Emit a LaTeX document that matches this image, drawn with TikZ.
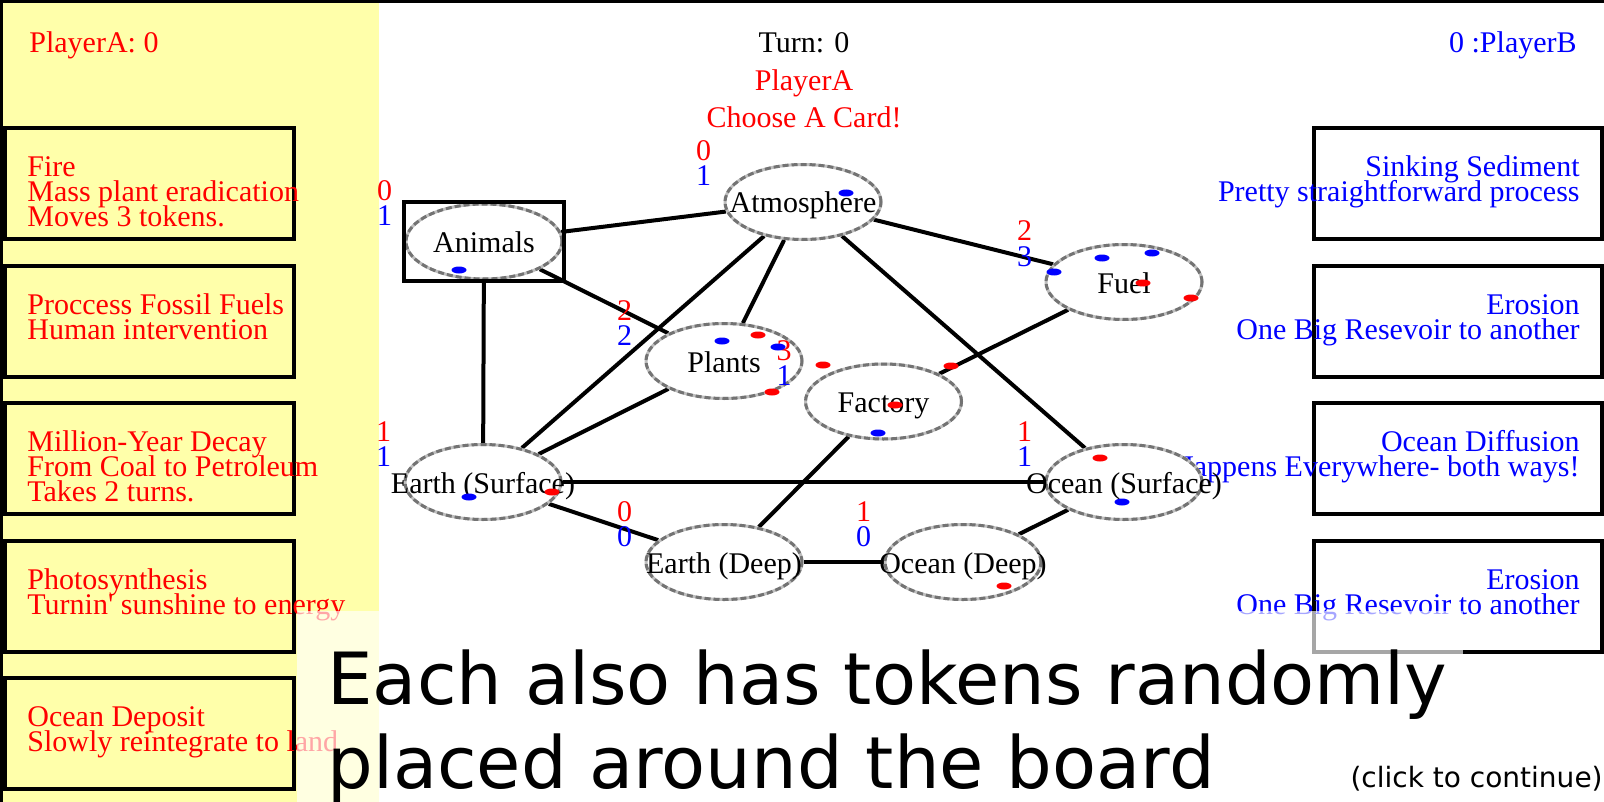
\documentclass[tikz,border=0pt]{standalone}
\usepackage{fontspec}
\setmainfont{Liberation Serif}
\newfontfamily\boardsans{DejaVu Sans}
\usetikzlibrary{shapes.geometric,calc,backgrounds}
\definecolor{panel}{RGB}{255,255,170}

\newcommand{\tally}[3]{%
  \node[tallyred] (#1-r) at ($(#1.west |- #1.north)+(-20,-2)$) {#2};
  \node[tallyblue] (#1-b) at ($(#1.west |- #1.north)+(-20,23)$) {#3};}
\newcommand{\leftcard}[3]{%
  \node[cardA] (#1) at (149.5,#2+55.5) {};
  \foreach \cardline [count=\k from 0] in {#3}
    \node[redtxt, anchor=base west] (#1-\k) at ($(#1.north west)+(24,50.5+25*\k)$) {\cardline};}
\newcommand{\rightcard}[3]{%
  \node[cardB] (#1) at (1458,#2+55.5) {};
  \foreach \cardline [count=\k from 0] in {#3}
    \node[bluetxt, anchor=base east] (#1-\k) at ($(#1.north east)+(-24,50.5+25*\k)$) {\cardline};}

\begin{document}
\begin{tikzpicture}[x=0.5pt, y=-0.5pt, font=\fontsize{15}{12.5}\selectfont,
  link/.style={line width=2pt},
  resv/.style={ellipse, draw=black!25, fill=white, line width=1.5pt, minimum width=78pt, minimum height=37.5pt,
    inner sep=0pt, text height=12pt, text depth=1pt,
    postaction={draw=black!55, line width=1.5pt, dash pattern=on 3pt off 1.5pt}},
  cardA/.style={draw, line width=2pt, fill=panel, minimum width=144.5pt, minimum height=55.5pt, inner sep=0pt},
  cardB/.style={draw, line width=2pt, fill=white, minimum width=144pt, minimum height=55.5pt, inner sep=0pt},
  redtxt/.style={text=red, inner sep=0pt},
  bluetxt/.style={text=blue, inner sep=0pt},
  tallyred/.style={redtxt, anchor=base},
  tallyblue/.style={bluetxt, anchor=base}]
  \useasboundingbox (0,0) rectangle (1604,802);
  \fill[panel] (0,0) rectangle (379,802);
  \draw[line width=1.5pt] (1.5,802) -- (1.5,1.5) -- (1604,1.5);

  \leftcard{cardA1}{128}{Fire, Mass plant eradication, Moves 3 tokens.}
  \leftcard{cardA2}{265.5}{Proccess Fossil Fuels, Human intervention}
  \leftcard{cardA3}{403}{Million-Year Decay, From Coal to Petroleum, Takes 2 turns.}
  \leftcard{cardA4}{540.5}{Photosynthesis, Turnin\textquotesingle{} sunshine to energy}
  \leftcard{cardA5}{678}{Ocean Deposit, Slowly reintegrate to land}
  \rightcard{cardB1}{128}{Sinking Sediment, Pretty straightforward process}
  \rightcard{cardB2}{265.5}{Erosion, One Big Resevoir to another}
  \rightcard{cardB3}{403}{Ocean Diffusion, Happens Everywhere- both ways!}
  \rightcard{cardB4}{540.5}{Erosion, One Big Resevoir to another}

  \node[redtxt, anchor=base west] (scoreA) at (29,53) {PlayerA: 0};
  \node[anchor=base, inner sep=0pt] (turn) at (804,53) {Turn: 0};
  \node[redtxt, anchor=base] (active) at (804,91) {PlayerA};
  \node[redtxt, anchor=base] (prompt) at (804,128) {Choose A Card!};
  \node[bluetxt, anchor=base east] (scoreB) at (1577,53) {0 :PlayerB};

  \node[resv] (atmos) at (803,202) {\makebox[0pt]{Atmosphere}};
  \node[resv] (animals) at (484,241.5) {\makebox[0pt]{Animals}};
  \node[resv] (plants) at (724,361) {\makebox[0pt]{Plants}};
  \node[resv] (fuel) at (1124,282) {\makebox[0pt]{Fuel}};
  \node[resv] (factory) at (883.5,401.5) {\makebox[0pt]{Factory}};
  \node[resv] (earthS) at (483,482) {\makebox[0pt]{Earth (Surface)}};
  \node[resv] (earthD) at (724,562) {\makebox[0pt]{Earth (Deep)}};
  \node[resv] (oceanS) at (1124,482) {\makebox[0pt]{Ocean (Surface)}};
  \node[resv] (oceanD) at (963,562) {\makebox[0pt]{Ocean (Deep)}};
  \node[draw, line width=2pt, minimum width=80pt, minimum height=39.5pt, inner sep=0pt] (animalsbox) at (animals) {};

  \begin{scope}[on background layer]
    \foreach \a/\b in {animals/atmos, animals/plants, animals/earthS, atmos/plants, atmos/earthS, atmos/fuel,
      atmos/oceanS, plants/earthS, fuel/factory, factory/earthD, earthS/oceanS, earthS/earthD, earthD/oceanD, oceanD/oceanS}
      \draw[link] (\a) -- (\b);
  \end{scope}

  \tally{animals}{0}{1}
  \tally{atmos}{0}{1}
  \tally{plants}{2}{2}
  \tally{factory}{3}{1}
  \tally{fuel}{2}{3}
  \tally{earthS}{1}{1}
  \tally{earthD}{0}{0}
  \tally{oceanS}{1}{1}
  \tally{oceanD}{1}{0}

  \foreach \x/\y in {459/270, 846/193, 722/341, 778/347, 878/433, 1102/258, 1152/253, 1054/272, 469/497, 1122/502}
    \fill[blue] (\x,\y) ellipse [x radius=3.75pt, y radius=1.75pt];
  \foreach \x/\y in {758/335, 772/392, 823/365, 951/366, 895/405, 1143/283, 1191/298, 552/492, 1100/458, 1004/586}
    \fill[red] (\x,\y) ellipse [x radius=3.75pt, y radius=1.75pt];

  \fill[white, opacity=0.65] (297,611) rectangle (1463,802);
  \node[anchor=base west, inner sep=0pt, font=\boardsans\fontsize{36}{42}\selectfont] (hint1) at (327,704) {Each also has tokens randomly};
  \node[anchor=base west, inner sep=0pt, font=\boardsans\fontsize{36}{42}\selectfont] (hint2) at (327,788) {placed around the board};
  \node[anchor=base east, inner sep=0pt, font=\boardsans\fontsize{14}{16}\selectfont] (clickon) at (1603,787) {(click to continue)};
\end{tikzpicture}
\end{document}
